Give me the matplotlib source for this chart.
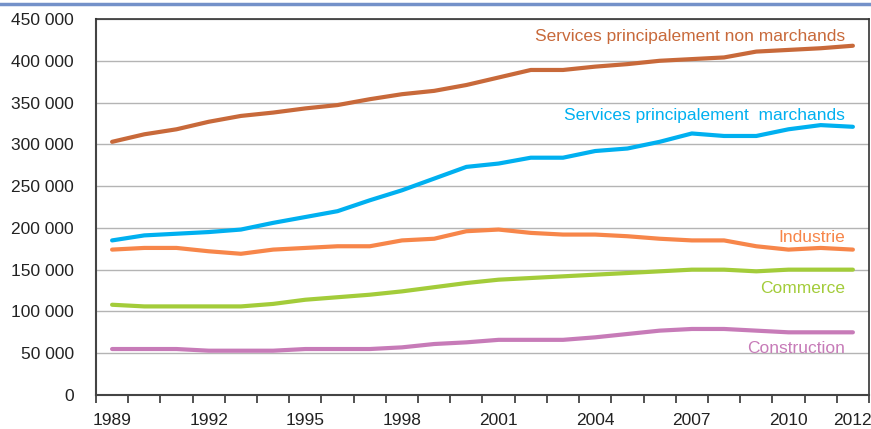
import matplotlib.pyplot as plt
from matplotlib.lines import Line2D

years = list(range(1989, 2013))

non_marchands = [303000, 312000, 318000, 327000, 334000, 338000, 343000, 347000,
                 354000, 360000, 364000, 371000, 380000, 389000, 389000, 393000,
                 396000, 400000, 402000, 404000, 411000, 413000, 415000, 418000]
marchands = [185000, 191000, 193000, 195000, 198000, 206000, 213000, 220000,
             233000, 245000, 259000, 273000, 277000, 284000, 284000, 292000,
             295000, 303000, 313000, 310000, 310000, 318000, 323000, 321000]
industrie = [174000, 176000, 176000, 172000, 169000, 174000, 176000, 178000,
             178000, 185000, 187000, 196000, 198000, 194000, 192000, 192000,
             190000, 187000, 185000, 185000, 178000, 174000, 176000, 174000]
commerce = [108000, 106000, 106000, 106000, 106000, 109000, 114000, 117000,
            120000, 124000, 129000, 134000, 138000, 140000, 142000, 144000,
            146000, 148000, 150000, 150000, 148000, 150000, 150000, 150000]
construction = [55000, 55000, 55000, 53000, 53000, 53000, 55000, 55000,
                55000, 57000, 61000, 63000, 66000, 66000, 66000, 69000,
                73000, 77000, 79000, 79000, 77000, 75000, 75000, 75000]

series = [
    ("Services principalement non marchands", non_marchands, "#C8693A", 429000),
    ("Services principalement  marchands", marchands, "#00B0F0", 334000),
    ("Industrie", industrie, "#F7864A", 188000),
    ("Commerce", commerce, "#A3CC3A", 128000),
    ("Construction", construction, "#C77BB8", 56000),
]

plt.rcParams['font.family'] = ['Liberation Sans', 'DejaVu Sans']

fig = plt.figure(figsize=(8.71, 4.29), dpi=100)
ax = fig.add_axes([0.1102, 0.0793, 0.8875, 0.8764])

x = list(range(len(years)))
for name, vals, color, ly in series:
    ax.plot(x, vals, color=color, lw=3, solid_capstyle='round', zorder=3)
    ax.text(22.75, ly, name, color=color, fontsize=12.5, ha='right', va='center')

ax.set_xlim(-0.5, len(years) - 0.5)
ax.set_ylim(0, 450000)
ax.set_yticks(range(0, 450001, 50000))
ax.set_yticklabels([f"{v:,}".replace(",", " ") for v in range(0, 450001, 50000)])
ax.grid(axis='y', color='#b4b4b4', lw=1, zorder=0)
ax.tick_params(axis='y', length=0, pad=16, labelsize=12.5, colors='#222222')

ax.set_xticks([i - 0.5 for i in range(len(years) + 1)])
ax.set_xticklabels([])
ax.tick_params(axis='x', which='major', length=6, width=1.3, color='#444444', direction='out')
lab_idx = [0, 3, 6, 9, 12, 15, 18, 21, 23]
ax.set_xticks(lab_idx, minor=True)
ax.set_xticklabels([str(years[i]) for i in lab_idx], minor=True)
ax.tick_params(axis='x', which='minor', length=0, pad=13, labelsize=12.5, colors='#222222')

for s in ['left', 'bottom']:
    ax.spines[s].set_color('#444444')
    ax.spines[s].set_linewidth(1.5)
for s in ['top', 'right']:
    ax.spines[s].set_color('#333333')
    ax.spines[s].set_linewidth(1.2)

fig.add_artist(Line2D([0, 1], [0.991, 0.991], transform=fig.transFigure,
                      color='#7491C9', lw=2.5))

fig.savefig('out.png', dpi=100)
